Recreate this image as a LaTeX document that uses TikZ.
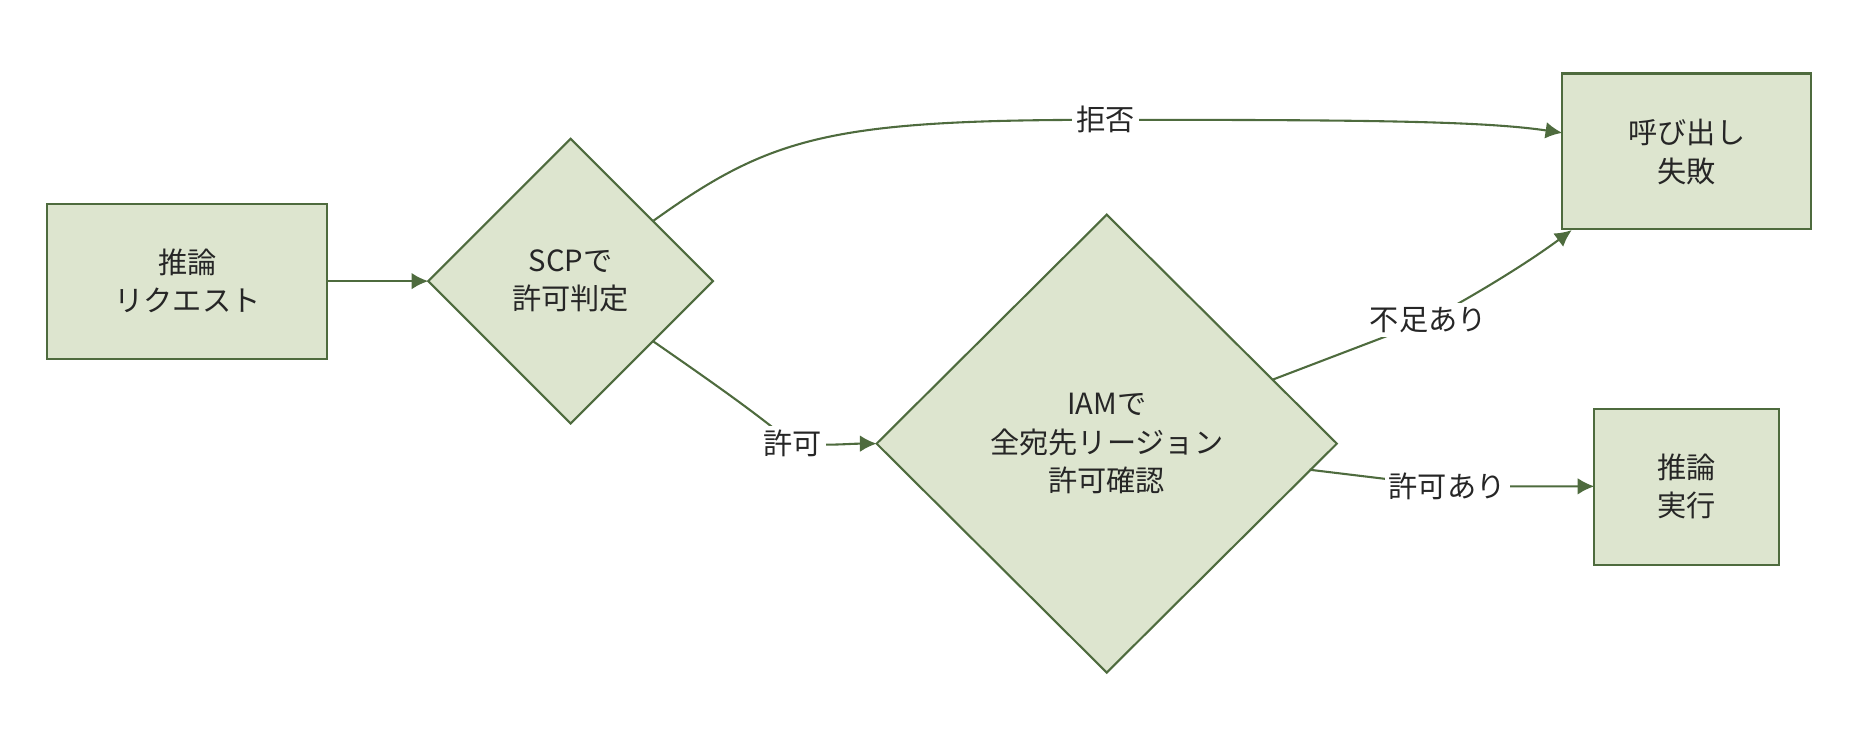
\documentclass[tikz,border=0pt]{standalone}
\usepackage{fontspec}
\setmainfont{Noto Sans CJK JP}
\usetikzlibrary{shapes.geometric,arrows.meta}
\definecolor{fillg}{HTML}{DDE5CF}
\definecolor{lineg}{HTML}{4E6B3E}
\begin{document}
\begin{tikzpicture}[x=0.01cm,y=-0.01cm,
  box/.style={draw=lineg,fill=fillg,line width=0.5pt,inner sep=0},
  txt/.style={font=\fontsize{7pt}{9.2pt}\selectfont,align=center,text=black!85},
  lbl/.style={txt,fill=white,inner sep=1pt},
  edge/.style={draw=lineg,line width=0.5pt,-{Latex[length=4pt,width=4pt]}}]
\useasboundingbox (0,0) rectangle (1568,634);
\filldraw[box] (40,172) rectangle (276,303);
\node[txt] (b1) at (158,237) {推論\\リクエスト};
\coordinate (b1e) at (276,237);
\filldraw[box] (481,117) -- (601,237) -- (481,357) -- (361,237) -- cycle;
\node[txt] (d1) at (481,237) {SCPで\\許可判定};
\coordinate (d1w) at (361,237);
\coordinate (d1a) at (551,186);
\coordinate (d1b) at (551,288);
\filldraw[box] (933,181) -- (1127,374) -- (933,567) -- (739,374) -- cycle;
\node[txt] (d2) at (933,374) {IAMで\\全宛先リージョン\\許可確認};
\coordinate (d2w) at (739,374);
\coordinate (d2a) at (1073,320);
\coordinate (d2b) at (1104,396);
\filldraw[box] (1317,62) rectangle (1527,193);
\node[txt] (f) at (1422,128) {呼び出し\\失敗};
\coordinate (fw) at (1317,112);
\coordinate (fb) at (1325,194);
\filldraw[box] (1344,345) rectangle (1500,476);
\node[txt] (r) at (1422,410) {推論\\実行};
\coordinate (rw) at (1344,410);
\draw[edge] (b1e) -- (d1w);
\draw[edge] (d1a) .. controls (650,115) and (700,101) .. (932,101) .. controls (1150,101) and (1250,102) .. (fw);
\node[lbl] (l1) at (932,101) {拒否};
\draw[edge] (d1b) .. controls (600,322) and (640,350) .. (668,374) .. controls (700,376) and (715,374) .. (d2w);
\node[lbl] (l2) at (668,374) {許可};
\draw[edge] (d2a) -- (1204,270) .. controls (1250,245) and (1290,220) .. (fb);
\node[lbl] (l3) at (1204,270) {不足あり};
\draw[edge] (d2b) -- (1220,410) .. controls (1280,410) and (1310,410) .. (rw);
\node[lbl] (l4) at (1220,410) {許可あり};
\end{tikzpicture}
\end{document}
